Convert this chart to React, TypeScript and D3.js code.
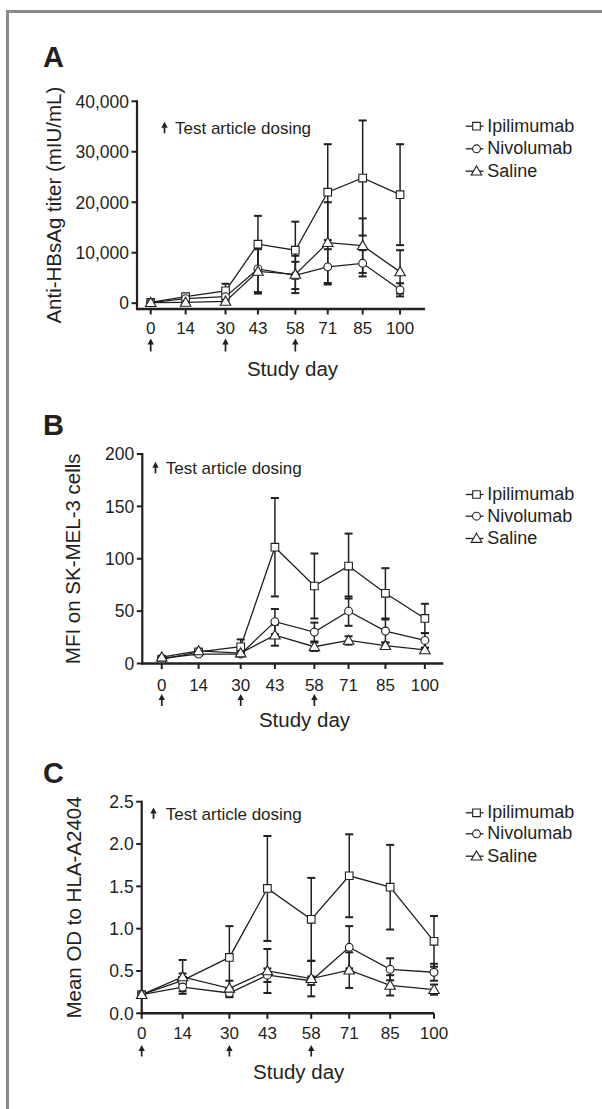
import React from 'react';
import * as d3 from 'd3';

// ---------- data ----------
const days = [0, 14, 30, 43, 58, 71, 85, 100];
const dosingDays = [0, 30, 58];
const seriesNames = ['Ipilimumab', 'Nivolumab', 'Saline'];

// Panel A: Anti-HBsAg titer (mIU/mL)
const titerIpi = [150, 1300, 2450, 11700, 10500, 22000, 24800, 21500];
const titerIpiSd = [150, 300, 1400, 5600, 5650, 9500, 11400, 10000];
const titerNivo = [100, 900, 1300, 6800, 5500, 7200, 7900, 2650];
const titerNivoSd = [100, 300, 700, 4600, 2700, 3500, 2600, 1300];
const titerSaline = [100, 150, 350, 6300, 5700, 12000, 11400, 6200];
const titerSalineSd = [100, 100, 400, 4400, 3700, 8000, 5400, 4300];
const titerTicks = [0, 10000, 20000, 30000, 40000];

// Panel B: MFI on SK-MEL-3 cells
const mfiIpi = [4, 11, 16, 111, 74, 93, 67, 43];
const mfiIpiSd = [2, 2, 7, 47, 31, 31, 24, 14];
const mfiNivo = [5, 9, 9, 40, 30, 50, 31, 22];
const mfiNivoSd = [1, 1, 2, 12, 9, 14, 11, 7];
const mfiSaline = [6, 12, 10, 27, 16, 22, 17, 13];
const mfiSalineSd = [1, 1, 2, 10, 4, 4, 3, 2];
const mfiTicks = [0, 50, 100, 150, 200];

// Panel C: Mean OD to HLA-A2404
const odIpi = [0.22, 0.39, 0.66, 1.475, 1.11, 1.625, 1.49, 0.85];
const odIpiSd = [0.03, 0.08, 0.37, 0.62, 0.49, 0.49, 0.5, 0.3];
const odNivo = [0.22, 0.31, 0.24, 0.45, 0.385, 0.78, 0.52, 0.485];
const odNivoSd = [0.03, 0.05, 0.05, 0.08, 0.05, 0.25, 0.13, 0.1];
const odSaline = [0.22, 0.43, 0.295, 0.5, 0.41, 0.51, 0.33, 0.28];
const odSalineSd = [0.03, 0.2, 0.09, 0.26, 0.21, 0.21, 0.12, 0.06];
const odTicks = [0, 0.5, 1.0, 1.5, 2.0, 2.5];

// ---------- style ----------
const FONT = '"Liberation Sans", Arial, Helvetica, sans-serif';
const INK = '#231f20';
const symbolTypes = [d3.symbolSquare, d3.symbolCircle, d3.symbolTriangle];
const symbolSizes = [58, 48, 48];

type PanelCfg = {
  letter: string;
  letterY: number;
  yTitle: string;
  yTitleX: number;
  xDomain: [number, number];
  xRange: [number, number];
  yDomain: [number, number];
  yRange: [number, number];
  yTicks: number[];
  yFormat: (v: number) => string;
  means: number[][];
  sds: number[][];
  xLabelY: number;
  arrowTop: number;
  arrowBottom: number;
  studyX: number;
  studyY: number;
  noteArrowX: number;
  noteTextX: number;
  noteBaseline: number;
  legendBaselines: number[];
};

const panels: PanelCfg[] = [
  {
    letter: 'A', letterY: 67,
    yTitle: 'Anti-HBsAg titer (mIU/mL)', yTitleX: 61,
    xDomain: [-5.5, 110], xRange: [137, 425],
    yDomain: [-1150, 40000], yRange: [309, 101.3],
    yTicks: titerTicks, yFormat: d3.format(','),
    means: [titerIpi, titerNivo, titerSaline],
    sds: [titerIpiSd, titerNivoSd, titerSalineSd],
    xLabelY: 334, arrowTop: 338.5, arrowBottom: 351.5,
    studyX: 292.5, studyY: 376,
    noteArrowX: 164.5, noteTextX: 175, noteBaseline: 134.3,
    legendBaselines: [131.7, 154.3, 176.7],
  },
  {
    letter: 'B', letterY: 435,
    yTitle: 'MFI on SK-MEL-3 cells', yTitleX: 80,
    xDomain: [-7.4, 107], xRange: [142.3, 443.3],
    yDomain: [0, 200], yRange: [663.5, 454],
    yTicks: mfiTicks, yFormat: d3.format('d'),
    means: [mfiIpi, mfiNivo, mfiSaline],
    sds: [mfiIpiSd, mfiNivoSd, mfiSalineSd],
    xLabelY: 691, arrowTop: 694, arrowBottom: 706,
    studyX: 304.5, studyY: 727.3,
    noteArrowX: 155.5, noteTextX: 165.7, noteBaseline: 474.3,
    legendBaselines: [500, 521.7, 544],
  },
  {
    letter: 'C', letterY: 783,
    yTitle: 'Mean OD to HLA-A2404', yTitleX: 81,
    xDomain: [0, 100], xRange: [141.7, 434],
    yDomain: [0, 2.5], yRange: [1013.3, 801.7],
    yTicks: odTicks, yFormat: d3.format('.1f'),
    means: [odIpi, odNivo, odSaline],
    sds: [odIpiSd, odNivoSd, odSalineSd],
    xLabelY: 1039.3, arrowTop: 1045, arrowBottom: 1056.5,
    studyX: 298.7, studyY: 1079.3,
    noteArrowX: 153.5, noteTextX: 165.7, noteBaseline: 820,
    legendBaselines: [818.3, 839.3, 861.7],
  },
];

function Arrow({ x, top, bottom }: { x: number; top: number; bottom: number }) {
  const headH = 6;
  const headW = 3.2;
  return (
    <g>
      <line x1={x} x2={x} y1={top + headH - 0.5} y2={bottom} stroke={INK} strokeWidth={1.7} />
      <path d={`M${x},${top} L${x - headW},${top + headH} L${x + headW},${top + headH} Z`} fill={INK} />
    </g>
  );
}

function Marker({ i, x, y }: { i: number; x: number; y: number }) {
  const d = d3.symbol().type(symbolTypes[i]).size(symbolSizes[i])() as string;
  const dy = i === 2 ? 0.8 : 0;
  return <path d={d} transform={`translate(${x},${y + dy})`} fill="#fff" stroke={INK} strokeWidth={1.1} />;
}

function Panel({ cfg }: { cfg: PanelCfg }) {
  const xs = d3.scaleLinear().domain(cfg.xDomain).range(cfg.xRange);
  const ys = d3.scaleLinear().domain(cfg.yDomain).range(cfg.yRange);
  const x0 = cfg.xRange[0];
  const x1 = cfg.xRange[1];
  const yBottom = cfg.yRange[0];
  const yTop = ys(cfg.yTicks[cfg.yTicks.length - 1]);
  const line = d3
    .line<number>()
    .x((_, j) => xs(days[j]))
    .y((v) => ys(v));
  const cap = 4;

  return (
    <g fontFamily={FONT} fill={INK}>
      {/* panel letter */}
      <text x={43} y={cfg.letterY} fontSize={29} fontWeight="bold">{cfg.letter}</text>

      {/* y title */}
      <text
        transform={`translate(${cfg.yTitleX},${(yTop + yBottom) / 2}) rotate(-90)`}
        textAnchor="middle"
        fontSize={20.5}
      >
        {cfg.yTitle}
      </text>

      {/* y axis */}
      <line x1={x0} x2={x0} y1={yTop - 1} y2={yBottom + 1} stroke={INK} strokeWidth={2.2} />
      {cfg.yTicks.map((t) => (
        <g key={t}>
          <line x1={x0 - 5.5} x2={x0} y1={ys(t)} y2={ys(t)} stroke={INK} strokeWidth={2} />
          <text x={x0 - 8} y={ys(t)} dy="0.36em" textAnchor="end" fontSize={17.5}>
            {cfg.yFormat(t)}
          </text>
        </g>
      ))}

      {/* x axis */}
      <line x1={x0 - 1} x2={x1} y1={yBottom} y2={yBottom} stroke={INK} strokeWidth={2.5} />
      {days.map((d) => (
        <g key={d}>
          <line x1={xs(d)} x2={xs(d)} y1={yBottom} y2={yBottom + 5.5} stroke={INK} strokeWidth={2} />
          <text x={xs(d)} y={cfg.xLabelY} textAnchor="middle" fontSize={17}>{d}</text>
        </g>
      ))}
      {dosingDays.map((d) => (
        <Arrow key={d} x={xs(d)} top={cfg.arrowTop} bottom={cfg.arrowBottom} />
      ))}
      <text x={cfg.studyX} y={cfg.studyY} textAnchor="middle" fontSize={20.5}>Study day</text>

      {/* annotation */}
      <Arrow x={cfg.noteArrowX} top={cfg.noteBaseline - 12.5} bottom={cfg.noteBaseline - 1} />
      <text x={cfg.noteTextX} y={cfg.noteBaseline} fontSize={17}>Test article dosing</text>

      {/* series */}
      {cfg.means.map((m, i) => (
        <g key={`l${i}`}>
          <path d={line(m) as string} fill="none" stroke={INK} strokeWidth={1.3} />
        </g>
      ))}
      {cfg.means.map((m, i) => (
        <g key={`e${i}`}>
          {m.map((v, j) => {
            const sd = cfg.sds[i][j];
            const xx = xs(days[j]);
            const lo = ys(Math.max(v - sd, cfg.yDomain[0]));
            const hi = ys(v + sd);
            return (
              <g key={j}>
                <line x1={xx} x2={xx} y1={lo} y2={hi} stroke={INK} strokeWidth={1.5} />
                <line x1={xx - cap} x2={xx + cap} y1={hi} y2={hi} stroke={INK} strokeWidth={2} />
                <line x1={xx - cap} x2={xx + cap} y1={lo} y2={lo} stroke={INK} strokeWidth={2} />
              </g>
            );
          })}
        </g>
      ))}
      {cfg.means.map((m, i) => (
        <g key={`m${i}`}>
          {m.map((v, j) => (
            <Marker key={j} i={i} x={xs(days[j])} y={ys(v)} />
          ))}
        </g>
      ))}

      {/* legend */}
      {seriesNames.map((name, i) => {
        const by = cfg.legendBaselines[i];
        const ly = by - 5.5;
        return (
          <g key={name}>
            <line x1={465.7} x2={483.5} y1={ly} y2={ly} stroke={INK} strokeWidth={1.3} />
            <Marker i={i} x={476.5} y={ly} />
            <text x={487.3} y={by} fontSize={18}>{name}</text>
          </g>
        );
      })}
    </g>
  );
}

export default function App() {
  return (
    <svg
      width={602}
      height={1109}
      viewBox="0 0 602 1109"
      style={{ position: 'absolute', left: 0, top: 0, background: '#fff' }}
    >
      <rect x={0} y={0} width={602} height={1109} fill="#fff" />
      <rect x={7.5} y={11.5} width={700} height={1200} fill="none" stroke="#8a8a8a" strokeWidth={3} />
      {panels.map((p) => (
        <Panel key={p.letter} cfg={p} />
      ))}
    </svg>
  );
}
